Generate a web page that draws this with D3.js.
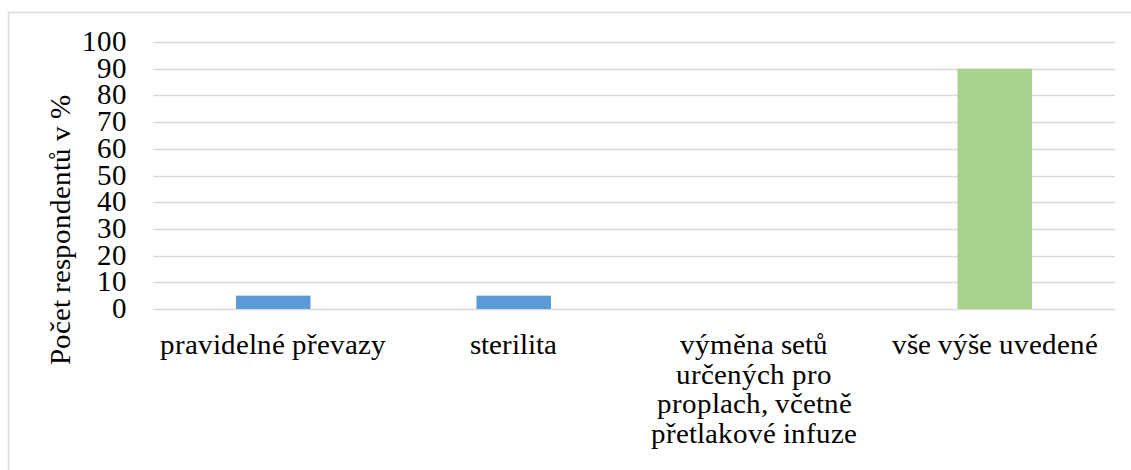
<!DOCTYPE html>
<html><head><meta charset="utf-8"><script src="https://cdn.jsdelivr.net/npm/d3@7"></script>
<style>
@font-face { font-family: "ChartSerif"; src: local("Liberation Serif"), local("LiberationSerif"), local("Tinos"), local("Times New Roman"); }
</style>
</head>
<body style="margin:0">
<script>
// data
const categories = [
  "pravidelné převazy",
  "sterilita",
  "výměna setů\nurčených pro\nproplach, včetně\npřetlakové infuze",
  "vše výše uvedené"
];
const values = [5, 5, 0, 90];
const barColors = ["#5b9bd5", "#5b9bd5", "#5b9bd5", "#a9d18e"];
const yTicks = [0, 10, 20, 30, 40, 50, 60, 70, 80, 90, 100];
const yTitle = "Počet respondentů v %";

const fontStack = '"ChartSerif", "Liberation Serif", "Times New Roman", serif';
const fontSize = 29;

const width = 1131, height = 470;
const margin = { top: 42, right: 16, bottom: 161, left: 153 };

const svg = d3.select("body").append("svg")
  .attr("width", width)
  .attr("height", height);

// chart frame (runs off right and bottom like the source)
svg.append("rect")
  .attr("x", 8.5).attr("y", 12.5)
  .attr("width", width).attr("height", height)
  .attr("fill", "none")
  .attr("stroke", "#d9d9d9")
  .attr("stroke-width", 1.5);

const x = d3.scaleBand()
  .domain(categories)
  .range([margin.left, width - margin.right])
  .paddingInner(0.69)
  .paddingOuter(0.345);

const y = d3.scaleLinear()
  .domain([0, 100])
  .range([height - margin.bottom, margin.top]);

// grid
svg.append("g")
  .selectAll("line")
  .data(yTicks)
  .join("line")
  .attr("x1", margin.left)
  .attr("x2", width - margin.right)
  .attr("y1", d => Math.round(y(d)) + 0.5)
  .attr("y2", d => Math.round(y(d)) + 0.5)
  .attr("stroke", "#d9d9d9")
  .attr("stroke-width", 1.5);

// y tick labels
svg.append("g")
  .selectAll("text")
  .data(yTicks)
  .join("text")
  .attr("x", 127)
  .attr("y", d => y(d) + 9)
  .attr("text-anchor", "end")
  .attr("font-size", fontSize)
  .style("font-family", fontStack)
  .text(d => d);

// bars
svg.append("g")
  .selectAll("rect")
  .data(values)
  .join("rect")
  .attr("x", (d, i) => x(categories[i]))
  .attr("width", x.bandwidth())
  .attr("y", d => y(d))
  .attr("height", d => y(0) - y(d))
  .attr("fill", (d, i) => barColors[i]);

// category labels
const xl = svg.append("g")
  .selectAll("text")
  .data(categories)
  .join("text")
  .attr("text-anchor", "middle")
  .attr("font-size", fontSize)
  .style("font-family", fontStack)
  .attr("x", d => x(d) + x.bandwidth() / 2)
  .attr("y", 354);
xl.selectAll("tspan")
  .data(d => d.split("\n"))
  .join("tspan")
  .attr("x", function () { return d3.select(this.parentNode).attr("x"); })
  .attr("dy", (d, i) => i === 0 ? 0 : 29.5)
  .text(d => d);

// y title
svg.append("text")
  .attr("transform", `translate(70,230) rotate(-90)`)
  .attr("text-anchor", "middle")
  .attr("font-size", fontSize)
  .style("font-family", fontStack)
  .text(yTitle);
</script>
</body>
</html>
